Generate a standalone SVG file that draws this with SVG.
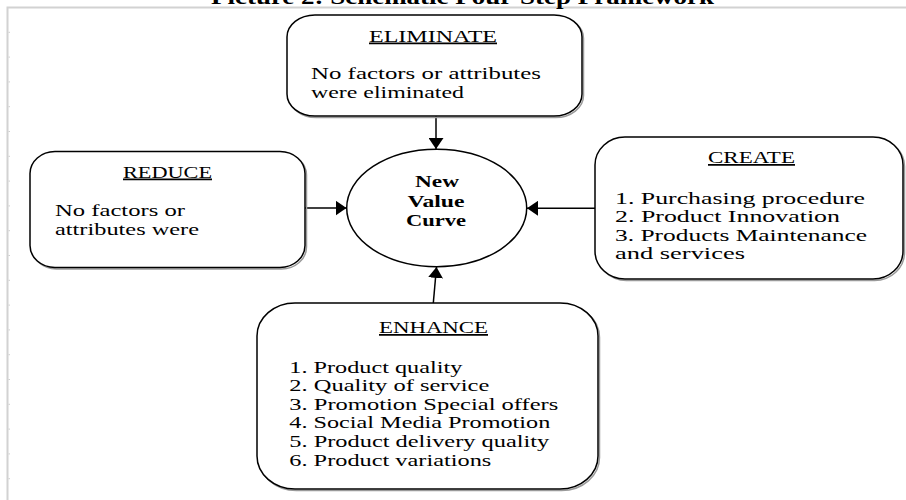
<svg xmlns="http://www.w3.org/2000/svg" width="906" height="500" viewBox="0 0 906 500">
  <style>
    text { font-family: "Liberation Serif", "Times New Roman", serif; fill: #000; }
    .body { font-size: 17.5px; }
    .head { font-size: 17.5px; text-decoration: underline; }
    .bold { font-size: 17.5px; font-weight: bold; }
    .title { font-size: 20px; font-weight: bold; }
    .box { fill: #fff; stroke: #000; stroke-width: 1.5; }
    .shadow { fill: none; stroke: #9a9a9a; stroke-width: 1.5; }
    .frame { stroke: #d2d2d2; stroke-width: 2; fill: none; }
    .tick { stroke: #cfcfcf; stroke-width: 1; }
    .conn { stroke: #000; stroke-width: 1.5; fill: none; marker-end: url(#arrow); }
  </style>
  <defs>
    <marker id="arrow" markerWidth="12" markerHeight="15" refX="11" refY="7.5" orient="auto" markerUnits="userSpaceOnUse">
      <path d="M0,0 L11,7.5 L0,15 Z" fill="#000"/>
    </marker>
  </defs>

  <rect width="906" height="500" fill="#fff"/>

  <!-- page frame -->
  <path class="frame" d="M7.5,500 V7.5 H906"/>
  <g id="frame-ticks">
    <line class="tick" x1="8.5" y1="32.3" x2="10" y2="32.3"/>
    <line class="tick" x1="8.5" y1="57.1" x2="10" y2="57.1"/>
    <line class="tick" x1="8.5" y1="81.9" x2="10" y2="81.9"/>
    <line class="tick" x1="8.5" y1="106.7" x2="10" y2="106.7"/>
    <line class="tick" x1="8.5" y1="131.5" x2="10" y2="131.5"/>
    <line class="tick" x1="8.5" y1="156.3" x2="10" y2="156.3"/>
    <line class="tick" x1="8.5" y1="181.1" x2="10" y2="181.1"/>
    <line class="tick" x1="8.5" y1="205.9" x2="10" y2="205.9"/>
    <line class="tick" x1="8.5" y1="230.7" x2="10" y2="230.7"/>
    <line class="tick" x1="8.5" y1="255.5" x2="10" y2="255.5"/>
    <line class="tick" x1="8.5" y1="280.3" x2="10" y2="280.3"/>
    <line class="tick" x1="8.5" y1="305.1" x2="10" y2="305.1"/>
    <line class="tick" x1="8.5" y1="329.9" x2="10" y2="329.9"/>
    <line class="tick" x1="8.5" y1="354.7" x2="10" y2="354.7"/>
    <line class="tick" x1="8.5" y1="379.5" x2="10" y2="379.5"/>
    <line class="tick" x1="8.5" y1="404.3" x2="10" y2="404.3"/>
    <line class="tick" x1="8.5" y1="429.1" x2="10" y2="429.1"/>
    <line class="tick" x1="8.5" y1="453.9" x2="10" y2="453.9"/>
    <line class="tick" x1="8.5" y1="478.7" x2="10" y2="478.7"/>
  </g>

  <!-- title (page header, clipped by the top edge) -->
  <text class="title" x="211" y="3.5" textLength="503" lengthAdjust="spacingAndGlyphs">Picture 2: Schematic Four-Step Framework</text>

  <!-- connectors -->
  <g id="connectors">
    <line class="conn" x1="436" y1="116.5" x2="436" y2="149"/>
    <line class="conn" x1="305" y1="208" x2="346.5" y2="208"/>
    <line class="conn" x1="595" y1="208.3" x2="527" y2="208.3"/>
    <line class="conn" x1="433.3" y1="303" x2="436.5" y2="267"/>
  </g>

  <!-- centre -->
  <g id="new-value-curve">
    <ellipse cx="436.7" cy="208" rx="90" ry="58.7" fill="#fff" stroke="#000" stroke-width="1.5"/>
    <text class="bold" x="415" y="187" textLength="44" lengthAdjust="spacingAndGlyphs">New</text>
    <text class="bold" x="407.5" y="206.5" textLength="57" lengthAdjust="spacingAndGlyphs">Value</text>
    <text class="bold" x="406" y="225.5" textLength="60" lengthAdjust="spacingAndGlyphs">Curve</text>
  </g>

  <!-- ELIMINATE -->
  <g id="eliminate">
    <rect class="shadow" x="288.5" y="16.5" width="295" height="101" rx="28" ry="22"/>
    <rect class="box" x="287" y="15" width="295" height="101" rx="28" ry="22"/>
    <text class="head" x="369" y="41.5" textLength="128" lengthAdjust="spacingAndGlyphs">ELIMINATE</text>
    <text class="body" x="311" y="79" textLength="230" lengthAdjust="spacingAndGlyphs">No factors or attributes</text>
    <text class="body" x="311" y="98" textLength="153" lengthAdjust="spacingAndGlyphs">were eliminated</text>
  </g>

  <!-- REDUCE -->
  <g id="reduce">
    <rect class="shadow" x="31.5" y="153" width="275" height="116" rx="25" ry="22"/>
    <rect class="box" x="30" y="151.5" width="275" height="116" rx="25" ry="22"/>
    <text class="head" x="123" y="177.5" textLength="89" lengthAdjust="spacingAndGlyphs">REDUCE</text>
    <text class="body" x="55" y="216" textLength="130" lengthAdjust="spacingAndGlyphs">No factors or</text>
    <text class="body" x="55" y="235" textLength="144" lengthAdjust="spacingAndGlyphs">attributes were</text>
  </g>

  <!-- CREATE -->
  <g id="create">
    <rect class="shadow" x="596.5" y="138.5" width="308" height="142" rx="30" ry="28"/>
    <rect class="box" x="595" y="137" width="308" height="142" rx="30" ry="28"/>
    <text class="head" x="708" y="163" textLength="87" lengthAdjust="spacingAndGlyphs">CREATE</text>
    <text class="body" x="615" y="203.5" textLength="250" lengthAdjust="spacingAndGlyphs">1. Purchasing procedure</text>
    <text class="body" x="615" y="222.1" textLength="225" lengthAdjust="spacingAndGlyphs">2. Product Innovation</text>
    <text class="body" x="615" y="240.7" textLength="252" lengthAdjust="spacingAndGlyphs">3. Products Maintenance</text>
    <text class="body" x="615" y="259.3" textLength="130" lengthAdjust="spacingAndGlyphs">and services</text>
  </g>

  <!-- ENHANCE -->
  <g id="enhance">
    <rect class="shadow" x="258.5" y="304.5" width="341" height="186" rx="38" ry="33"/>
    <rect class="box" x="257" y="303" width="341" height="186" rx="38" ry="33"/>
    <text class="head" x="379" y="333" textLength="109" lengthAdjust="spacingAndGlyphs">ENHANCE</text>
    <text class="body" x="289.3" y="372.5" textLength="173" lengthAdjust="spacingAndGlyphs">1. Product quality</text>
    <text class="body" x="289.3" y="391.1" textLength="200" lengthAdjust="spacingAndGlyphs">2. Quality of service</text>
    <text class="body" x="289.3" y="409.7" textLength="269" lengthAdjust="spacingAndGlyphs">3. Promotion Special offers</text>
    <text class="body" x="289.3" y="428.3" textLength="261" lengthAdjust="spacingAndGlyphs">4. Social Media Promotion</text>
    <text class="body" x="289.3" y="446.9" textLength="260" lengthAdjust="spacingAndGlyphs">5. Product delivery quality</text>
    <text class="body" x="289.3" y="465.5" textLength="202" lengthAdjust="spacingAndGlyphs">6. Product variations</text>
  </g>
</svg>
